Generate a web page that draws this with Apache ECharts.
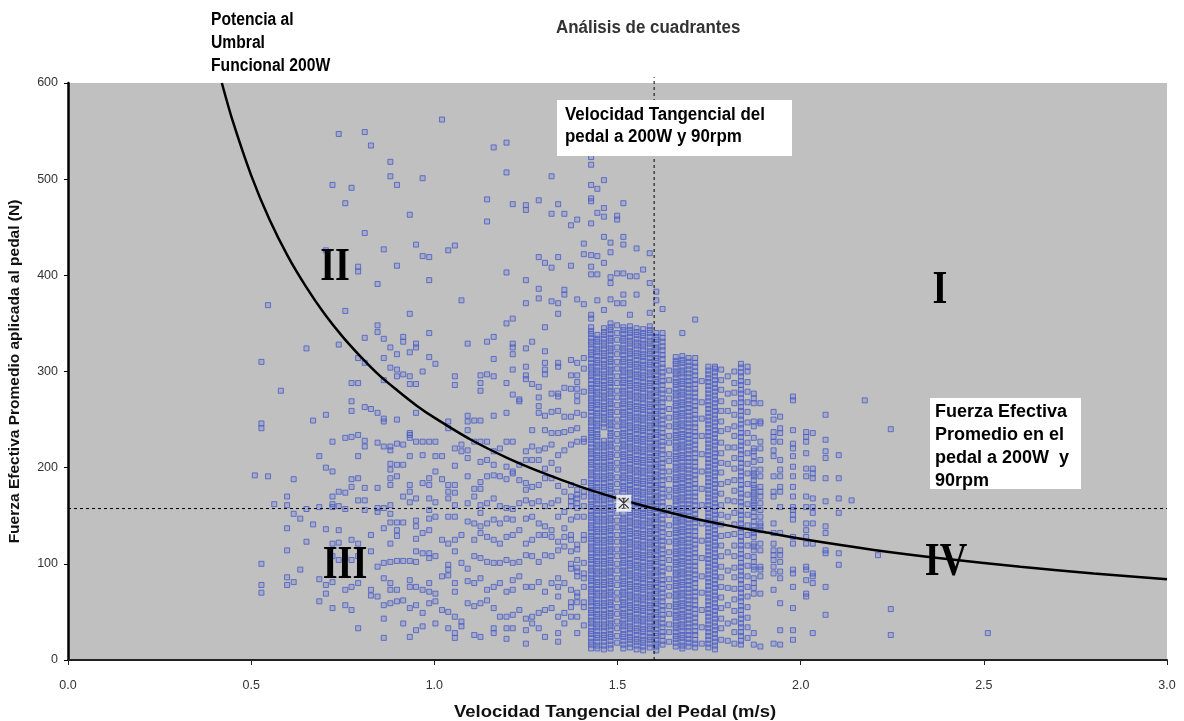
<!DOCTYPE html>
<html>
<head>
<meta charset="utf-8">
<script src="https://cdn.jsdelivr.net/npm/echarts@6/dist/echarts.min.js"></script>
<style>
  html, body { margin: 0; padding: 0; background: #ffffff; }
  #chart { width: 1184px; height: 721px; }
</style>
</head>
<body>
<div id="chart"></div>
<script>
// Pedal tangential speed (m/s) per cadence column and the effective forces (N) recorded at it.
const velocidadIzq = [0.510,0.528,0.546,0.563,0.581,0.598,0.616,0.634,0.651,0.669,0.686,0.704,0.722,0.739,0.757,0.774,0.792,0.810,0.827,0.845,0.862,0.880,0.898,0.915,0.933,0.950,0.968,0.986,1.003,1.021,1.038,1.056,1.074,1.091,1.109,1.126,1.144,1.162,1.179,1.197,1.214,1.232,1.250,1.267,1.285,1.302,1.320,1.338,1.355,1.373,1.390,1.408];
const fuerzaIzq = [
  [192],
  [310,246,241,100,78,70],
  [369,191],
  [162],
  [280],
  [170,161,137,114,86,78],
  [188,152,81],
  [147,94],
  [324,157,123],
  [249,141],
  [212,159,84,61],
  [426,255,200,136,78,69],
  [494,227,196,170,162,159,121,108,81,54],
  [547,328,175,160,135,122,104],
  [475,363,231,174,157,106,73,57],
  [491,288,269,259,232,188,180,125,104,76,52],
  [409,404,314,288,234,212,189,166,121,108,80,33],
  [549,444,335,309,263,228,222,179,166,156],
  [535,261,130,113,73,67],
  [391,348,341,257,226,179,158,154,97,66],
  [427,334,314,291,251,248,222,158,137,101,85,57,43,23],
  [518,503,325,304,222,218,204,198,189,182,161,152,143,121,102,80,73,59],
  [494,410,318,302,295,250,225,203,191,143,135,129,103,73,61],
  [336,331,297,224,203,170,143,103,62,38],
  [463,360,320,295,287,236,234,231,212,182,175,164,103,83,76,54,24],
  [432,329,325,287,257,227,168,145,139,126,113,102,76,57,31],
  [501,420,300,227,213,184,132,111,73,49,35],
  [419,395,340,315,227,189,182,168,156,147,135,111,106,80,71,59],
  [308,227,212,196,164,149,108,69,61,38],
  [562,212,188,125,87,52],
  [426,248,241,182,175,168,149,121,99,94,88,50,33],
  [431,295,286,220,202,182,174,161,149,125,113,80,71,45,28,23],
  [374,224,217,130,101,40,35],
  [329,254,248,239,218,210,191,163,144,95,82,59],
  [249,227,178,170,142,125,108,80,56,26],
  [296,288,280,249,227,206,185,178,161,153,139,132,106,85,59,24],
  [479,456,331,297,227,208,191,163,142,128,102,73,62],
  [533,336,313,295,254,217,203,192,168,146,125,101,76,54,33,28],
  [220,191,160,142,121,101,80,45],
  [538,507,403,350,288,257,227,201,188,158,147,128,104,71,45,33,22],
  [474,355,329,325,318,302,276,227,196,194,157,146,130,101,83,73,47,33],
  [271,269,203,187,163,135,102,87,52],
  [473,468,395,371,324,305,296,292,217,208,184,177,166,147,121,109,76,43,31,17],
  [331,287,239,222,208,180,163,149,125,108,76,45,38],
  [478,419,386,376,284,273,264,257,218,208,182,165,142,130,102,81,49,33],
  [413,346,321,309,302,297,254,239,220,199,189,160,139,130,109,71,52,24],
  [503,464,408,373,277,258,236,224,205,189,163,135,128,108,80,54],
  [474,419,371,360,309,305,277,274,259,236,213,198,181,166,149,123,114,85,76,66,45,28,19],
  [464,385,380,283,253,237,218,175,154,137,128,118,80,49,38],
  [452,410,312,296,282,253,239,224,182,170,165,160,146,130,125,113,100,95,73,60,55,45],
  [458,375,309,296,289,282,275,269,257,241,227,177,172,168,163,158,149,120,115,104,96,92,87,70,66,60,45,28],
  [433,422,370,314,303,279,255,230,227,185,175,170,160,149,130,125,101,90,85,76,60,55,36]
];

const velocidadCentro = [1.428,1.445,1.463,1.481,1.499,1.516,1.534,1.552,1.570,1.588,1.606,1.623,1.641,1.659,1.677,1.694,1.712,1.730,1.748,1.766,1.783,1.801,1.819,1.837,1.855];
const fuerzaCentro = [
  [523,515,494,480,477,454,421,409,401,359,355,346,342,339,335,331,328,324,320,317,313,309,305,302,298,295,291,287,283,280,276,272,269,265,262,258,254,250,247,243,239,236,232,229,225,221,217,214,210,206,203,199,195,192,188,184,181,177,173,170,166,162,159,155,151,148,144,140,137,133,129,126,122,118,115,111,107,104,100,96,93,89,85,82,78,74,71,67,63,60,56,52,49,45,41,38,34,30,27,23,19,16,12],
  [490,465,420,401,374,338,334,331,327,323,320,316,312,309,305,301,298,294,290,287,283,279,276,272,268,265,261,257,254,250,246,243,239,235,232,228,224,221,217,213,210,206,202,199,195,191,188,184,180,177,173,169,166,162,158,155,151,147,144,140,136,133,129,125,122,118,114,111,107,103,100,96,92,89,85,81,78,74,70,67,63,59,56,52,48,45,41,37,34,30,26,23,19,15,12],
  [499,470,461,440,413,364,345,341,338,334,330,327,323,319,316,312,308,305,301,297,294,290,286,283,279,275,272,268,264,261,257,253,250,246,242,228,224,221,217,213,210,206,202,199,195,191,188,184,180,177,173,169,166,162,158,155,151,147,144,140,136,133,129,125,122,118,114,111,107,103,100,96,92,89,85,81,78,74,70,67,63,59,56,52,48,45,41,37,34,30,26,23,19,15,11],
  [434,424,398,392,375,350,346,343,339,335,332,328,324,321,317,313,310,306,302,299,295,291,288,284,280,277,273,269,266,262,258,255,251,247,244,240,236,233,229,225,222,218,214,211,207,203,200,196,192,189,185,181,178,174,170,167,163,159,156,152,148,145,141,137,134,130,126,123,119,115,112,108,104,101,97,93,90,86,82,79,75,71,68,64,60,57,53,49,46,42,38,35,31,27,24,20,16,12],
  [462,458,402,371,348,340,333,325,318,310,303,295,288,280,273,265,258,250,243,235,228,220,213,205,198,190,183,175,168,160,153,145,138,130,123,115,108,100,93,85,78,70,63,55,48,40,33,25,18],
  [475,440,432,402,380,371,346,343,339,335,332,328,324,321,317,313,310,306,302,299,295,291,288,284,280,277,273,269,266,262,258,255,251,247,244,240,236,233,229,225,222,218,214,211,207,203,200,196,192,189,185,181,178,174,170,152,148,145,141,137,134,130,126,123,119,115,112,108,104,101,97,93,90,86,82,79,75,71,68,64,60,57,53,49,46,42,38,35,31,27,24,20,16,12],
  [399,359,347,343,340,336,332,329,325,321,318,314,310,307,303,299,296,292,288,285,281,277,274,270,266,263,259,255,252,248,244,241,237,233,230,226,222,219,215,211,208,204,200,197,193,189,186,182,178,175,171,167,164,160,156,153,149,145,142,138,134,131,127,123,120,116,112,109,105,101,98,94,90,87,83,79,76,72,68,65,61,57,54,50,46,43,39,35,32,28,24,21,17,13],
  [428,399,380,345,341,338,334,330,327,323,319,316,312,308,305,301,297,294,290,286,283,279,275,272,268,264,261,257,253,250,246,242,239,235,231,228,224,220,217,213,209,206,202,198,195,191,187,184,180,176,173,169,165,162,158,154,151,147,143,140,136,132,129,125,121,118,114,110,107,103,99,96,92,88,85,81,77,74,70,66,63,59,55,52,48,44,41,37,33,30,26,22,19,15,11],
  [406,344,340,337,333,329,326,322,318,315,311,307,304,300,296,293,289,285,282,278,274,271,267,263,260,256,252,249,245,241,238,234,230,227,223,219,216,212,208,205,201,197,194,190,186,183,179,175,172,168,164,161,157,153,150,146,142,139,135,131,128,124,120,117,113,109,106,102,98,95,91,87,84,80,76,73,69,65,62,58,54,51,47,43,40,36,32,29,25,21,18,14,10],
  [423,392,361,347,343,340,336,332,329,325,321,318,314,310,307,303,299,296,292,288,285,281,277,274,270,266,263,259,255,252,248,244,241,237,233,230,226,222,219,215,211,208,204,200,197,193,189,186,182,178,175,171,167,164,160,156,153,149,145,142,138,134,131,127,123,120,116,112,109,105,101,98,94,90,87,83,79,76,72,68,65,61,57,54,50,46,43,39,35,32,28,24,21,17,13],
  [383,374,340,336,333,329,325,322,318,314,311,307,303,300,296,292,289,285,281,278,274,270,267,263,259,256,252,248,245,241,237,234,230,226,223,219,215,212,208,204,201,197,193,190,186,182,179,175,171,168,164,160,157,153,149,146,142,138,135,131,127,124,120,116,113,109,105,102,98,94,91,87,83,80,76,72,69,65,61,58,54,50,47,43,39,36,32,28,25,21,17,14,10],
  [365,340,335,331,326,322,317,313,308,304,299,295,290,286,281,277,272,268,263,259,254,250,245,241,236,232,227,223,218,214,209,205,200,196,191,187,182,178,173,169,164,160,155,151,146,142,137,133,128,124,119,115,110,106,101,97,92,88,83,79,74,70,65,61,56,52,47,43,38,34,29,25,20,16],
  [301,291,280,272,261,252,243,233,226,214,207,196,188,177,170,158,151,140,131,123,112,104,95,84,76,67,56,48,37,29,19],
  [315,311,308,304,300,297,293,289,286,282,278,275,271,267,264,260,256,253,249,245,242,238,234,231,227,223,220,216,212,209,205,201,198,194,190,187,183,179,176,172,168,165,161,157,154,150,146,143,139,135,132,128,124,121,117,113,110,106,102,99,95,91,88,84,80,77,73,69,66,62,58,55,51,47,44,40,36,33,29,25,22,18,14],
  [340,316,312,309,305,301,298,294,290,287,283,279,276,272,268,265,261,257,254,250,246,243,239,235,232,228,224,221,217,213,210,206,202,199,195,191,188,184,180,177,173,169,166,162,158,155,151,147,144,140,136,133,129,125,122,118,114,111,107,103,100,96,92,89,85,81,78,74,70,67,63,59,56,52,48,45,41,37,34,30,26,23,19,15,12],
  [314,310,306,302,298,294,290,286,282,278,274,270,266,262,258,254,250,246,242,238,234,230,226,222,218,214,210,206,202,198,194,190,186,182,178,174,170,166,162,158,154,150,146,142,138,134,130,126,122,118,114,110,106,102,98,94,90,86,82,78,74,70,66,62,58,54,50,46,42,38,34,30,26,22,18,14],
  [354,314,309,305,300,296,291,287,282,278,273,269,264,260,255,251,246,242,237,233,228,224,219,215,210,206,201,197,192,188,183,179,174,170,165,161,156,152,147,143,138,134,129,125,120,116,111,107,102,98,93,89,84,80,75,71,66,62,57,53,48,44,39,35,30,26,21,17,13],
  [290,268,251,233,214,196,178,161,142,124,106,87,70,52,34,17],
  [305,301,297,293,289,285,281,277,273,269,265,261,257,253,249,245,241,237,233,229,225,221,217,213,209,205,201,197,193,189,185,181,177,173,169,165,161,157,153,149,145,141,137,133,129,125,121,117,113,109,105,101,97,93,89,85,81,77,73,69,65,61,57,53,49,45,41,37,33,29,25,21,17,13],
  [305,303,299,295,291,287,283,279,275,271,267,263,259,255,251,247,243,239,235,231,227,223,219,215,211,207,203,199,195,191,187,183,179,175,171,167,163,159,155,151,147,143,139,135,131,127,123,119,115,111,107,103,99,95,91,87,83,79,75,71,67,63,59,55,51,47,43,39,35,31,27,23,19,15,11],
  [302,291,281,269,259,248,238,226,215,205,195,183,173,161,151,141,129,119,108,97,86,76,65,54,43,33,21],
  [295,277,259,240,221,204,185,166,149,130,112,93,75,57,38,20],
  [300,288,278,267,255,243,233,221,210,199,187,176,165,153,141,131,119,108,96,86,74,63,51,40,29,17],
  [308,304,299,295,290,286,281,277,272,268,263,259,254,250,245,241,236,232,227,223,218,214,209,205,200,196,191,187,182,178,173,169,164,160,155,151,146,142,137,133,128,124,119,115,110,106,101,97,92,88,83,79,74,70,65,61,56,52,47,43,38,34,29,25,20,16],
  [305,300,289,279,268,258,247,236,226,215,204,194,183,172,162,151,140,130,119,108,98,87,76,66,55,44,34,23]
];

const velocidadDer = [1.872,1.890,1.926,1.944,1.979,2.015,2.033,2.068,2.104,2.139,2.175,2.211,2.246,2.511];
const fuerzaDer = [
  [277,272,267,248,243,231,220,217,212,206,198,194,191,187,182,179,175,172,168,165,161,158,154,149,144,139,135,132,128,121,118,114,107,102,97,94,85,80,75,69,28,16],
  [267,248,246,227,220,208,198,191,180,175,170,163,156,149,142,139,135,121,114,97,94,87,69,14],
  [258,250,237,232,227,218,212,191,175,170,142,132,121,114,109,104,97,90,73,17],
  [253,241,236,227,208,198,191,180,175,159,132,114,109,102,92,85,59,31,16],
  [274,270,239,225,220,212,201,191,180,170,159,156,151,146,128,121,94,90,76,54,31,21],
  [237,232,227,215,199,191,170,159,142,135,128,121,97,94,83,69,66],
  [236,199,194,189,168,159,153,142,121,90,87,80,28],
  [255,229,217,210,189,165,139,132,114,111,76,47],
  [213,189,168,153,111,99],
  [166],
  [270],
  [109],
  [240,53,26],
  [28]
];

// Power isoline: force needed at each pedal speed for the threshold power.
const curvaVelocidad = [0.42,0.45,0.5,0.55,0.6,0.65,0.7,0.75,0.8,0.85,0.9,0.95,1.0,1.1,1.2,1.3,1.4,1.5,1.6,1.7,1.8,1.9,2.0,2.2,2.4,2.6,2.8,3.0];
const curvaFuerza = [600,560,504,458,420,388,360,336,315,296,280,265,252,229,210,194,180,168,157.5,148,140,133,126,114.5,105,97,90,84];

// Reference speed / force at 200 W and 90 rpm, and the mean point of the session.
const velocidadReferencia = 1.6;
const fuerzaReferencia = 157.5;
const puntoPromedio = [1.517, 163];

const ejeXTicks = [0, 0.5, 1.0, 1.5, 2.0, 2.5, 3.0];
const ejeYTicks = [0, 100, 200, 300, 400, 500, 600];

function aPuntos(velocidades, fuerzas) {
  const out = [];
  velocidades.forEach((v, i) => (fuerzas[i] || []).forEach(f => out.push([v, f])));
  return out;
}
const puntos = [].concat(
  aPuntos(velocidadIzq, fuerzaIzq),
  aPuntos(velocidadCentro, fuerzaCentro),
  aPuntos(velocidadDer, fuerzaDer)
);
const curva = curvaVelocidad.map((v, i) => [v, curvaFuerza[i]]);

const SANS = "'Liberation Sans', Arial, sans-serif";
const SERIF = "'Liberation Serif', 'DejaVu Serif', serif";

const chart = echarts.init(document.getElementById('chart'), null, { renderer: 'canvas' });

chart.setOption({
  animation: false,
  backgroundColor: '#ffffff',
  grid: {
    left: 68, right: 17, top: 83, bottom: 61,
    outerBoundsMode: 'none',
    containLabel: false,
    show: true, backgroundColor: '#c0c0c0', borderWidth: 0
  },
  xAxis: {
    type: 'value',
    min: ejeXTicks[0], max: ejeXTicks[ejeXTicks.length - 1], interval: 0.5,
    axisLine: { show: true, onZero: false, lineStyle: { color: '#222', width: 2 } },
    axisTick: { show: true, length: 5, lineStyle: { color: '#222', width: 1 } },
    axisLabel: { formatter: v => v.toFixed(1), fontFamily: SANS, fontSize: 12.5, color: '#333', margin: 19 },
    splitLine: { show: false }
  },
  yAxis: {
    type: 'value',
    min: ejeYTicks[0], max: ejeYTicks[ejeYTicks.length - 1], interval: 100,
    name: 'Fuerza Efectiva Promedio aplicada al pedal (N)',
    nameLocation: 'middle', nameGap: 45,
    nameTextStyle: { fontFamily: SANS, fontWeight: 'bold', fontSize: 15.5, color: '#111' },
    axisLine: { show: true, onZero: false, lineStyle: { color: '#000', width: 2.5 } },
    axisTick: { show: true, length: 4, lineStyle: { color: '#000', width: 1 } },
    axisLabel: { fontFamily: SANS, fontSize: 12.5, color: '#333', margin: 10 },
    splitLine: { show: false }
  },
  series: [
    {
      type: 'scatter',
      data: puntos,
      symbol: 'rect',
      symbolSize: 5,
      silent: true,
      z: 2,
      itemStyle: { color: 'rgba(80,100,205,0.28)', borderColor: '#4a5cc4', borderWidth: 1 }
    },
    {
      type: 'line',
      data: [[velocidadReferencia, 0], [velocidadReferencia, 606]],
      symbol: 'none', silent: true, clip: false, z: 3,
      lineStyle: { color: '#000', width: 1, type: [3, 3] }
    },
    {
      type: 'line',
      data: [[0, fuerzaReferencia], [3, fuerzaReferencia]],
      symbol: 'none', silent: true, z: 3,
      lineStyle: { color: '#000', width: 1, type: [3, 3] }
    },
    {
      type: 'line',
      data: curva,
      smooth: 0.3,
      symbol: 'none', silent: true, z: 4,
      lineStyle: { color: '#000', width: 2.5 }
    },
    {
      type: 'scatter',
      data: [puntoPromedio],
      symbol: 'rect', symbolSize: [15, 17], silent: true, z: 6,
      itemStyle: { color: '#ffffff' }
    },
    {
      type: 'scatter',
      data: [puntoPromedio],
      symbol: 'path://M0,0L10,10M10,0L0,10M5,0L5,10M3,0L7,0M3,10L7,10',
      symbolSize: 10, silent: true, z: 7,
      itemStyle: { color: 'rgba(0,0,0,0)', borderColor: '#111', borderWidth: 1.2 }
    }
  ],
  graphic: [
    {
      type: 'text', z: 100, x: 615, y: 712, scaleX: 1.12,
      style: { text: 'Velocidad Tangencial del Pedal (m/s)', font: 'bold 16.5px ' + SANS, fill: '#111', align: 'center', verticalAlign: 'middle' }
    },
    {
      type: 'text', z: 100, left: 211, top: 9, scaleX: 0.87,
      style: { text: 'Potencia al\nUmbral\nFuncional 200W', font: 'bold 18px ' + SANS, fill: '#000', lineHeight: 23 }
    },
    {
      type: 'text', z: 100, left: 556, top: 19, scaleX: 0.94,
      style: { text: 'Análisis de cuadrantes', font: 'bold 18px ' + SANS, fill: '#333' }
    },
    {
      type: 'rect', z: 99, shape: { x: 557, y: 100, width: 235, height: 56 },
      style: { fill: '#ffffff' }
    },
    {
      type: 'text', z: 100, left: 565, top: 104, scaleX: 0.94,
      style: { text: 'Velocidad Tangencial del\npedal a 200W y 90rpm', font: 'bold 18px ' + SANS, fill: '#000', lineHeight: 22 }
    },
    {
      type: 'rect', z: 99, shape: { x: 930, y: 398, width: 151, height: 91 },
      style: { fill: '#ffffff' }
    },
    {
      type: 'text', z: 100, left: 935, top: 401,
      style: { text: 'Fuerza Efectiva\nPromedio en el\npedal a 200W  y\n90rpm', font: 'bold 18px ' + SANS, fill: '#000', lineHeight: 23 }
    },
    {
      type: 'text', z: 100, x: 940, y: 291, scaleX: 0.83,
      style: { text: 'I', font: 'bold 46px ' + SERIF, fill: '#000', align: 'center', verticalAlign: 'middle' }
    },
    {
      type: 'text', z: 100, x: 335, y: 268, scaleX: 0.83,
      style: { text: 'II', font: 'bold 46px ' + SERIF, fill: '#000', align: 'center', verticalAlign: 'middle' }
    },
    {
      type: 'text', z: 100, x: 345, y: 566, scaleX: 0.83,
      style: { text: 'III', font: 'bold 46px ' + SERIF, fill: '#000', align: 'center', verticalAlign: 'middle' }
    },
    {
      type: 'text', z: 100, x: 946, y: 563, scaleX: 0.83,
      style: { text: 'IV', font: 'bold 46px ' + SERIF, fill: '#000', align: 'center', verticalAlign: 'middle' }
    }
  ]
});
</script>
</body>
</html>
